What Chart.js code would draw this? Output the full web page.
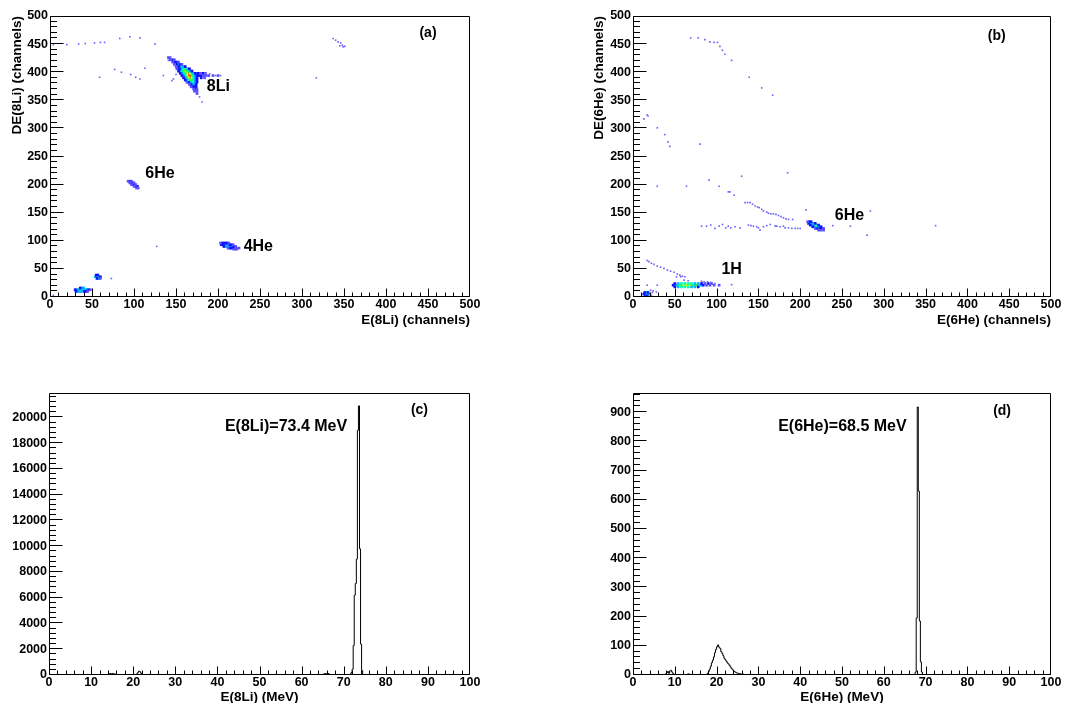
<!DOCTYPE html>
<html><head><meta charset="utf-8">
<script src="https://cdn.jsdelivr.net/npm/chart.js@4/dist/chart.umd.min.js"></script>
<style>
html,body{margin:0;padding:0;background:#fff;overflow:hidden;width:1082px;height:703px;}
canvas{position:absolute;}
</style></head><body>
<canvas id="ca" width="541" height="351" style="left:0;top:0"></canvas>
<canvas id="cb" width="541" height="351" style="left:541px;top:0"></canvas>
<canvas id="cc" width="541" height="370" style="left:0;top:351px"></canvas>
<canvas id="cd" width="541" height="370" style="left:541px;top:351px"></canvas>
<script>
// ---------------- tick labels ----------------
const chanTicks = [0,50,100,150,200,250,300,350,400,450,500];
const mevTicks = [0,10,20,30,40,50,60,70,80,90,100];
const cTicksY = [0,2000,4000,6000,8000,10000,12000,14000,16000,18000,20000];
const dTicksY = [0,100,200,300,400,500,600,700,800,900];

// colour levels of the 2D plots (ROOT palette)
const palette = ['#5a50ff','#1010ff','#00b4ff','#00ffb0','#40ff20','#e8ff00','#ff3000'];
const sparseColour = '#6a64ff';

// ---------------- panel (a): [E(8Li), DE(8Li), level] ----------------
const a8Li = [
 [141,426,1],[143,426,1],
 [143,422,1],[146,422,2],[148,422,1],
 [146,418,1],[149,418,2],[151,418,2],[153,418,1],
 [148,414,1],[151,414,2],[153,414,3],[155,414,2],[157,414,1],
 [150,410,1],[153,410,2],[155,410,3],[157,410,4],[159,410,3],[161,410,2],
 [151,406,1],[154,406,2],[156,406,3],[158,406,4],[160,406,5],[162,406,4],[164,406,3],[166,406,2],
 [153,402,2],[155,402,3],[157,402,4],[159,402,5],[161,402,6],[163,402,5],[165,402,4],[167,402,3],[169,402,2],
 [155,398,2],[157,398,3],[159,398,4],[161,398,5],[163,398,6],[165,398,7],[167,398,6],[169,398,4],[171,398,3],[173,398,2],[176,398,2],[179,398,1],[182,398,2],[185,398,1],
 [157,394,2],[159,394,3],[161,394,4],[163,394,6],[165,394,7],[167,394,7],[169,394,5],[171,394,4],[173,394,3],[175,394,2],[177,394,2],[180,394,2],[183,394,1],[186,394,1],[189,394,1],[194,394,1],[200,394,1],
 [159,390,2],[161,390,3],[163,390,5],[165,390,6],[167,390,7],[169,390,6],[171,390,4],[173,390,3],[175,390,2],[180,390,2],[184,390,1],
 [161,386,2],[163,386,3],[165,386,4],[167,386,5],[169,386,5],[171,386,4],[173,386,3],[175,386,2],
 [163,382,1],[165,382,2],[167,382,3],[169,382,4],[171,382,4],[173,382,3],[175,382,2],
 [166,378,1],[168,378,2],[170,378,3],[172,378,3],[174,378,2],
 [168,374,1],[170,374,2],[172,374,2],[174,374,2],
 [171,370,1],[173,370,2],[175,370,1],
 [172,366,1],[175,366,1],[175,362,1]
];
const a6He = [
 [93,206,1],[95,206,2],[97,206,1],
 [95,203,1],[97,203,2],[99,203,2],[100,203,1],
 [97,200,1],[99,200,2],[101,200,2],[102,200,1],
 [100,197,1],[102,197,2],[104,197,2],
 [103,194,1],[105,194,1]
];
const a4He = [
 [203,96,1],[205,96,2],[207,96,2],[209,96,2],[211,96,2],[213,96,1],
 [204,93,2],[206,93,2],[208,93,3],[210,93,3],[212,93,3],[214,93,2],[216,93,2],[218,93,1],
 [207,90,2],[209,90,3],[211,90,3],[213,90,4],[215,90,3],[217,90,3],[219,90,2],[221,90,1],
 [212,87,1],[214,87,2],[216,87,2],[218,87,2],[220,87,2],[222,87,1],[225,87,1],
 [219,85,1],[222,85,1]
];
const aLow = [
 [55,39,2],[57,39,2],
 [54,36,3],[56,36,5],[58,36,4],[60,36,2],
 [56,33,2],[58,33,3],[60,33,1],
 [36,16,2],[38,16,3],[40,16,3],
 [30,13,2],[32,13,3],[34,13,3],[36,13,4],[38,13,4],[40,13,3],[42,13,3],[44,13,3],[46,13,2],[48,13,1],
 [31,10,2],[33,10,3],[35,10,3],[37,10,3],[39,10,3],[41,10,2],[43,10,2],[45,10,1]
];
const aSparse = [
 [4,449],[20,449],[34,450],[42,451],[53,452],[60,453],[65,453],[83,460],[95,463],[107,461],[125,450],
 [77,405],[85,400],[96,396],[102,391],[107,388],[113,407],[59,391],[317,390],
 [337,460],[340,457],[343,454],[346,452],[348,448],[351,446],[345,447],[349,445],
 [181,347],[127,90],[73,33],[4,3],
 [141,421],[145,385],[135,394],[150,396],[147,388],[190,397],[197,394],[203,394],[178,356]
];

// ---------------- panel (b): [E(6He), DE(6He), level] ----------------
const b6He = [
 [209,134,1],[211,134,2],[213,134,2],
 [210,131,2],[212,131,3],[214,131,4],[216,131,3],[218,131,2],
 [212,128,2],[214,128,3],[216,128,5],[218,128,6],[220,128,4],[222,128,2],
 [215,125,2],[217,125,3],[219,125,5],[221,125,4],[223,125,3],[225,125,2],
 [218,122,1],[220,122,2],[222,122,3],[224,122,2],[226,122,2],[228,122,1],
 [222,119,1],[225,119,1],[228,119,1]
];
const b1H = [
 [50,24,2],[54,24,3],[58,24,4],[62,24,4],[66,24,4],[70,24,4],[74,24,3],[78,24,3],[82,24,2],[86,24,1],[90,24,2],[94,24,1],
 [48,21,2],[51,21,3],[54,21,5],[57,21,5],[60,21,6],[63,21,6],[66,21,6],[69,21,6],[72,21,5],[75,21,5],[78,21,4],[81,21,3],[84,21,2],[88,21,1],[92,21,1],[97,21,1],[103,21,1],
 [50,18,2],[54,18,3],[58,18,4],[62,18,4],[66,18,4],[70,18,3],[74,18,3],[78,18,2],
 [14,8,2],[16,8,3],[18,8,2],
 [13,5,2],[15,5,4],[17,5,5],[19,5,3],
 [15,2,2],[17,2,2]
];
const bSparse = [
 [69,461],[78,461],[86,458],[92,454],[97,453],[101,453],[104,446],[107,439],[110,432],[118,421],[139,391],[154,372],[167,359],
 [3,302],[13,317],[17,324],[18,322],[29,301],[38,289],[42,276],[44,268],[80,272],
 [29,197],[64,197],[91,208],[103,197],[114,187],[116,187],[121,181],[130,215],[185,221],
 [134,168],[137,168],[140,168],[143,165],[146,162],[149,160],[151,159],[154,156],[156,153],[160,151],[162,149],[165,148],[168,148],[171,147],[174,145],[177,143],[180,141],[183,139],[186,138],[191,138],
 [82,126],[88,126],[93,128],[98,122],[103,126],[107,129],[111,123],[114,126],[117,123],[122,125],[128,123],[138,128],[141,127],[144,126],[148,125],[150,123],[152,119],[156,125],[160,127],[164,129],[170,126],[172,126],[176,125],[180,126],[182,123],[186,123],[190,122],[194,122],[197,122],[200,122],[207,155],
 [239,127],[260,126],[280,110],[284,153],[362,127],
 [17,65],[19,63],[22,60],[25,58],[29,55],[33,53],[37,51],[41,48],[45,46],[49,44],[53,41],[56,39],[59,37],[62,36],[57,36],[52,36],
 [82,28],[85,27],[89,27],[93,26],[98,24],[118,22],[66,29],[61,30],
 [21,12],[24,11],[28,9],[23,8],[17,21],[29,21],[22,3]
];

// ---------------- panel (c): histogram E(8Li) [bin low edge MeV, counts] ----------------
const cHist = [
 [0,0],
 [14.0,60],[14.25,90],[14.5,110],[14.75,80],[15.0,120],[15.25,70],[15.5,90],[15.75,40],[16.0,0],
 [20.75,80],[21.0,180],[21.25,300],[21.5,260],[21.75,150],[22.0,60],[22.25,0],
 [65.0,50],[65.25,90],[65.5,120],[65.75,100],[66.0,80],[66.25,110],[66.5,60],[66.75,0],
 [71.5,80],[71.75,200],[72.0,450],[72.25,2300],[72.5,6200],[72.75,7100],[73.0,9000],[73.25,19000],[73.5,20900],[73.75,9800],[74.0,2400],[74.25,350],[74.5,0],
 [100,0]
];

// ---------------- panel (d): histogram E(6He) [bin low edge MeV, counts] ----------------
const dHist = [
 [0,0],
 [7.75,4],[8.0,8],[8.25,12],[8.5,6],[8.75,14],[9.0,16],[9.25,10],[9.5,5],[9.75,2],[10.0,0],
 [13.0,3],[13.25,4],[13.5,0],
 [17.5,2],[17.75,5],[18.0,12],[18.25,20],[18.5,30],[18.75,42],[19.0,51],[19.25,62],[19.5,76],[19.75,88],[20.0,97],[20.25,103],[20.5,95],[20.75,91],[21.0,80],[21.25,74],[21.5,66],[21.75,57],[22.0,52],[22.25,47],[22.5,41],[22.75,38],[23.0,33],[23.25,27],[23.5,22],[23.75,18],[24.0,14],[24.25,11],[24.5,9],[24.75,7],[25.0,6],[25.25,4],[25.5,5],[25.75,3],[26.0,2],[26.25,3],[26.5,1],[26.75,2],[27.0,1],[27.25,0],
 [67.5,10],[67.75,195],[68.0,918],[68.25,630],[68.5,185],[68.75,45],[69.0,10],[69.25,0],
 [100,0]
];

// ---------------- helpers ----------------
Chart.defaults.font.family = "'Liberation Sans', Arial, sans-serif";
Chart.defaults.color = '#000';
const TICKF = {size: 12.5, weight: 'bold'};
const TITLEF = {size: 13.5, weight: 'bold'};

function rootFrame(cfg) {
  return {
    id: 'rootFrame',
    afterDatasetsDraw(chart) {
      const {ctx, chartArea: a, scales: {x, y}} = chart;
      const L = Math.round(a.left) + 0.5, R = Math.round(a.right) - 0.5;
      const T = Math.round(a.top) + 0.5, B = Math.round(a.bottom) - 0.5;
      ctx.save();
      ctx.strokeStyle = '#000'; ctx.lineWidth = 1;
      ctx.beginPath();
      ctx.rect(L, T, R - L, B - T);
      for (let i = 0; ; i++) {
        const v = x.min + i * cfg.xMinor;
        if (v > x.max + 1e-9) break;
        const px = Math.min(R, Math.round(x.getPixelForValue(v)) + 0.5);
        const q = v / cfg.xMajor, major = Math.abs(q - Math.round(q)) < 1e-6;
        const len = major ? cfg.xLen : cfg.xLen / 2;
        ctx.moveTo(px, B); ctx.lineTo(px, B - len);
      }
      for (let i = 0; ; i++) {
        const v = y.min + i * cfg.yMinor;
        if (v > y.max + 1e-9) break;
        const py = Math.max(T, Math.round(y.getPixelForValue(v)) - 0.5);
        const q = v / cfg.yMajor, major = Math.abs(q - Math.round(q)) < 1e-6;
        const len = major ? cfg.yLen : cfg.yLen / 2;
        ctx.moveTo(L, py); ctx.lineTo(L + len, py);
      }
      ctx.stroke();
      ctx.fillStyle = '#000'; ctx.textAlign = 'center'; ctx.textBaseline = 'middle';
      cfg.notes.forEach(n => {
        ctx.font = 'bold ' + n.size + "px 'Liberation Sans', Arial, sans-serif";
        ctx.fillText(n.text, x.getPixelForValue(n.x), y.getPixelForValue(n.y));
      });
      ctx.restore();
    }
  };
}

function scaleX(ticks, max, h, title, align, titlePad) {
  return {
    type: 'linear', min: 0, max: max,
    grid: {display: false, drawTicks: false}, border: {display: false},
    afterBuildTicks: s => { s.ticks = ticks.map(v => ({value: v})); },
    afterFit: s => { s.height = h; },
    ticks: {font: TICKF, padding: 0, autoSkip: false, maxRotation: 0, callback: v => String(v)},
    title: {display: true, text: title, align: align, font: TITLEF, padding: {top: 0, bottom: titlePad}}
  };
}
function scaleY(ticks, max, w, title, titlePad) {
  return {
    type: 'linear', min: 0, max: max,
    grid: {display: false, drawTicks: false}, border: {display: false},
    afterBuildTicks: s => { s.ticks = ticks.map(v => ({value: v})); },
    afterFit: s => { s.width = w; },
    ticks: {font: TICKF, padding: 2, autoSkip: false, callback: v => String(v)},
    title: title ? {display: true, text: title, align: 'end', font: TITLEF, padding: {top: titlePad, bottom: 0}} : {display: false}
  };
}

function levelDatasets(sparse, lists) {
  const all = [].concat(...lists);
  const sets = [{
    data: sparse.map(p => ({x: p[0], y: p[1]})),
    backgroundColor: sparseColour, borderWidth: 0, pointStyle: 'rect', pointRadius: 1.15, pointHoverRadius: 1.15
  }];
  palette.forEach((col, i) => sets.push({
    data: all.filter(p => p[2] === i + 1).map(p => ({x: p[0], y: p[1]})),
    backgroundColor: col, borderWidth: 0, pointStyle: 'rect', pointRadius: 1.9, pointHoverRadius: 1.9
  }));
  return sets;
}

function scatterPanel(id, sparse, lists, padRight, yW, xTitle, yTitle, yTitlePad, notes) {
  new Chart(document.getElementById(id), {
    type: 'scatter',
    data: {datasets: levelDatasets(sparse, lists)},
    options: {
      responsive: false, animation: false, events: [],
      layout: {padding: {left: 0, top: 16, right: padRight, bottom: 0}},
      plugins: {legend: {display: false}, tooltip: {enabled: false}},
      scales: {
        x: scaleX(chanTicks, 500, 54, xTitle, 'end', 23),
        y: scaleY(chanTicks, 500, yW, yTitle, yTitlePad)
      }
    },
    plugins: [rootFrame({xMinor: 10, xMajor: 50, xLen: 8, yMinor: 10, yMajor: 50, yLen: 13, notes: notes})]
  });
}

function histPanel(id, hist, yTicks, yMax, yMinor, yMajor, padRight, yW, xTitle, notes) {
  new Chart(document.getElementById(id), {
    type: 'line',
    data: {datasets: [{
      data: hist.map(p => ({x: p[0], y: p[1]})),
      stepped: true, borderColor: '#000', borderWidth: 1, pointRadius: 0, fill: false
    }]},
    options: {
      responsive: false, animation: false, events: [],
      layout: {padding: {left: 0, top: 42, right: padRight, bottom: 0}},
      plugins: {legend: {display: false}, tooltip: {enabled: false}},
      scales: {
        x: scaleX(mevTicks, 100, 46, xTitle, 'center', 16),
        y: scaleY(yTicks, yMax, yW, null, 0)
      }
    },
    plugins: [rootFrame({xMinor: 2, xMajor: 10, xLen: 8, yMinor: yMinor, yMajor: yMajor, yLen: 13, notes: notes})]
  });
}

scatterPanel('ca', aSparse, [a6He, a4He, aLow, a8Li], 71, 50, 'E(8Li) (channels)', 'DE(8Li) (channels)', 9.5, [
  {text: '(a)', x: 450, y: 470, size: 14},
  {text: '8Li', x: 200.5, y: 375, size: 16},
  {text: '6He', x: 131, y: 219, size: 16},
  {text: '4He', x: 248, y: 89, size: 16}
]);
scatterPanel('cb', bSparse, [b1H, b6He], 31, 92, 'E(6He) (channels)', 'DE(6He) (channels)', 50, [
  {text: '(b)', x: 435, y: 464, size: 14},
  {text: '6He', x: 259, y: 145, size: 16},
  {text: '1H', x: 118, y: 48, size: 16}
]);
histPanel('cc', cHist, cTicksY, 21900, 400, 2000, 71, 49, 'E(8Li) (MeV)', [
  {text: '(c)', x: 88, y: 20580, size: 14},
  {text: 'E(8Li)=73.4 MeV', x: 56.3, y: 19300, size: 16}
]);
histPanel('cd', dHist, dTicksY, 966, 20, 100, 31, 92, 'E(6He) (MeV)', [
  {text: '(d)', x: 88.3, y: 904, size: 14},
  {text: 'E(6He)=68.5 MeV', x: 50.1, y: 850, size: 16}
]);
</script>
</body></html>
